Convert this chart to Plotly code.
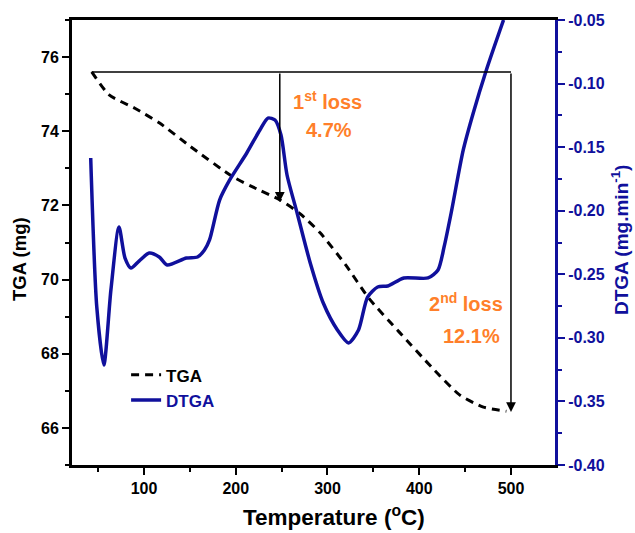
import plotly.graph_objects as go

# ---- data ----
tga_temp = [43, 62, 90, 117, 150, 197, 225, 248, 270, 292, 320, 345, 378, 415, 444, 470, 495]
tga_mass = [75.60, 74.98, 74.62, 74.22, 73.60, 72.77, 72.42, 72.15, 71.78, 71.26, 70.39, 69.50, 68.59, 67.60, 66.89, 66.56, 66.45]

dtga_temp = [41.9, 48.5, 56.2, 63.9, 72.7, 79.3, 85.8, 94.6, 105.6, 116.6, 125.3, 146.2, 158.3, 165.9,
             171.4, 182.4, 193.4, 212, 226.3, 235.1, 242.8, 249.3, 255.9, 266.9, 281.2, 295.4, 310.8,
             322.9, 333.8, 343.7, 354.7, 365.7, 383.2, 409.6, 420.5, 427.1, 434.8, 448, 458.9, 473.2, 491.9]
dtga_rate = [-0.1585, -0.2757, -0.3214, -0.2624, -0.2128, -0.2372, -0.2451, -0.2396, -0.2333, -0.2364,
             -0.2427, -0.2372, -0.2364, -0.2309, -0.2230, -0.1916, -0.1758, -0.1546, -0.1365, -0.1271,
             -0.1287, -0.1405, -0.1719, -0.2018, -0.2411, -0.2726, -0.2938, -0.3040, -0.2938, -0.2679,
             -0.2600, -0.2592, -0.2529, -0.2529, -0.2466, -0.2285, -0.2018, -0.1522, -0.1231, -0.0893, -0.05]

# loss annotation values
start_temp, start_mass = 43, 75.6
loss1_temp, loss1_mass = 248, 72.1
loss2_temp, loss2_mass = 500, 66.43
loss1_label = ["1<sup>st</sup> loss", "4.7%"]
loss2_label = ["2<sup>nd</sup> loss", "12.1%"]

x_ticks = [100, 200, 300, 400, 500]
y_ticks = [66, 68, 70, 72, 74, 76]
y2_ticks = [-0.40, -0.35, -0.30, -0.25, -0.20, -0.15, -0.10, -0.05]

x_title = "Temperature (<sup>o</sup>C)"
y_title = "TGA (mg)"
y2_title = "DTGA (mg.min<sup>-1</sup>)"

NAVY = "#10109c"
ORANGE = "#ff7f2a"
FONT = "Liberation Sans"

fig = go.Figure()
fig.add_trace(go.Scatter(
    x=tga_temp, y=tga_mass, mode="lines", name="<b>TGA</b>",
    line=dict(color="black", width=3, dash="8px,6px", shape="spline", smoothing=0.6),
))
fig.add_trace(go.Scatter(
    x=dtga_temp, y=dtga_rate, mode="lines", yaxis="y2",
    name=f"<b><span style='color:{NAVY}'>DTGA</span></b>",
    line=dict(color=NAVY, width=3.5, shape="spline", smoothing=0.7),
))

# horizontal reference line
fig.add_shape(type="line", xref="x", yref="y", x0=start_temp, x1=loss2_temp,
              y0=start_mass, y1=start_mass, line=dict(color="black", width=1.5))
# vertical arrows
for tx, ty in [(loss1_temp, loss1_mass), (loss2_temp, loss2_mass)]:
    fig.add_annotation(x=tx, y=ty, ax=tx, ay=start_mass, xref="x", yref="y", axref="x", ayref="y",
                       showarrow=True, arrowhead=2, arrowsize=1.3, arrowwidth=1.5, arrowcolor="black", text="")

tfont = dict(family=FONT, size=20, color=ORANGE)
fig.add_annotation(x=299.5, y=74.84, xref="x", yref="y", text=f"<b>{loss1_label[0]}</b>", showarrow=False, font=tfont)
fig.add_annotation(x=301.5, y=74.03, xref="x", yref="y", text=f"<b>{loss1_label[1]}</b>", showarrow=False, font=tfont)
fig.add_annotation(x=451, y=69.37, xref="x", yref="y", text=f"<b>{loss2_label[0]}</b>", showarrow=False, font=tfont)
fig.add_annotation(x=457.5, y=68.47, xref="x", yref="y", text=f"<b>{loss2_label[1]}</b>", showarrow=False, font=tfont)

# axis titles (placed as in the reference, which is off-centre)
fig.add_annotation(x=0.5424, y=-0.114, xref="paper", yref="paper", xanchor="center", yanchor="middle",
                   text=f"<b>{x_title}</b>", showarrow=False, font=dict(family=FONT, size=22.5, color="black"))
fig.add_annotation(x=-0.1077, y=0.463, xref="paper", yref="paper", xanchor="center", yanchor="middle",
                   text=f"<b>{y_title}</b>", textangle=-90,
                   showarrow=False, font=dict(family=FONT, size=18.5, color="black"))
fig.add_annotation(x=1.135, y=0.506, xref="paper", yref="paper", xanchor="center", yanchor="middle",
                   text=f"<b>{y2_title}</b>", textangle=-90,
                   showarrow=False, font=dict(family=FONT, size=19, color=NAVY))

def bold(vals, fmt="{}"):
    return [f"<b>{fmt.format(v)}</b>" for v in vals]

fig.update_layout(
    width=635, height=533,
    margin=dict(l=72, r=80, t=20, b=68),
    paper_bgcolor="white", plot_bgcolor="white",
    font=dict(family=FONT, size=15, color="black"),
    showlegend=True,
    legend=dict(x=0.112, y=0.242, xanchor="left", yanchor="top", bgcolor="rgba(0,0,0,0)",
                font=dict(family=FONT, size=17, color="black"),
                itemwidth=30, tracegroupgap=2),
    xaxis=dict(
        range=[21.5, 548], tickvals=x_ticks, ticktext=bold(x_ticks), ticks="outside", ticklen=7, tickwidth=2,
        tickcolor="black",
        showline=True, linewidth=3, linecolor="black", mirror=True, showgrid=False, zeroline=False,
        tickfont=dict(family=FONT, size=16),
        minor=dict(tickvals=[50, 150, 250, 350, 450], ticks="outside", ticklen=4, tickwidth=2, tickcolor="black"),
    ),
    yaxis=dict(
        range=[65, 77], tickvals=y_ticks, ticktext=bold(y_ticks), ticks="outside", ticklen=7, tickwidth=2,
        tickcolor="black",
        showline=True, linewidth=3, linecolor="black", showgrid=False, zeroline=False,
        tickfont=dict(family=FONT, size=16),
        minor=dict(tickvals=[65, 67, 69, 71, 73, 75, 77], ticks="outside", ticklen=4, tickwidth=2, tickcolor="black"),
    ),
    yaxis2=dict(
        range=[-0.40, -0.05], tickvals=y2_ticks, ticktext=bold(y2_ticks, "{:.2f}"), overlaying="y", side="right",
        ticks="outside", ticklen=7, tickwidth=2, tickcolor=NAVY,
        showline=True, linewidth=3, linecolor=NAVY, showgrid=False, zeroline=False,
        tickfont=dict(family=FONT, size=16, color=NAVY),
        minor=dict(tickvals=[-0.375, -0.325, -0.275, -0.225, -0.175, -0.125, -0.075], ticks="outside",
                   ticklen=4, tickwidth=2, tickcolor=NAVY),
    ),
)

fig.write_html("out.html", config={"displayModeBar": False})

# remove the default page margin so the figure sits at the window origin
with open("out.html", "r", encoding="utf-8") as f:
    html = f.read()
html = html.replace("<body>", "<body style=\"margin:0;padding:0;overflow:hidden\">", 1)
with open("out.html", "w", encoding="utf-8") as f:
    f.write(html)
